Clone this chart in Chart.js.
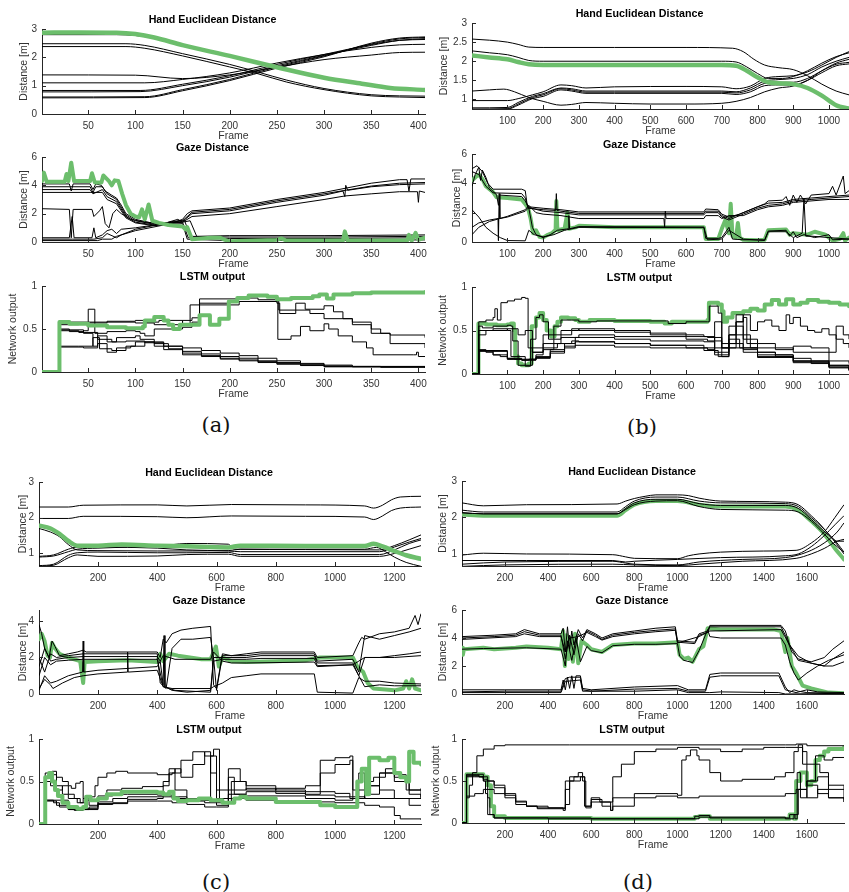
<!DOCTYPE html>
<html><head><meta charset="utf-8">
<script src="https://cdn.jsdelivr.net/npm/chart.js@4"></script>
<style>
body{margin:0;width:849px;height:892px;overflow:hidden;background:#fff;position:relative;}
canvas{position:absolute;}
.lab{position:absolute;font-family:"DejaVu Serif","Liberation Serif",serif;font-size:21px;color:#111;transform:translate(-50%,-50%);white-space:nowrap;}
</style></head><body>
<div class="lab" style="left:216px;top:425px">(a)</div>
<div class="lab" style="left:642px;top:427px">(b)</div>
<div class="lab" style="left:216px;top:882px">(c)</div>
<div class="lab" style="left:638px;top:882px">(d)</div>
<script>
// ---------- titles and ticks ----------
const titles = ['Hand Euclidean Distance', 'Gaze Distance', 'LSTM output'];
const xLabel = 'Frame';
const yLabels = ['Distance [m]', 'Distance [m]', 'Network output'];
const aFrames = [1, 407], bFrames = [1, 1056], cFrames = [1, 1290], dFrames = [1, 1772];
const aFrameTicks = [50, 100, 150, 200, 250, 300, 350, 400];
const bFrameTicks = [100, 200, 300, 400, 500, 600, 700, 800, 900, 1000];
const cFrameTicks = [200, 400, 600, 800, 1000, 1200];
const dFrameTicks = [200, 400, 600, 800, 1000, 1200, 1400, 1600];
const lstmTicks = [0, 0.5, 1];
const gazeTicks6 = [0, 2, 4, 6];
const gazeTicks4 = [0, 2, 4];
const handTicksA = [0, 1, 2, 3];
const handTicksB = [1, 1.5, 2, 2.5, 3];
const handTicksCD = [1, 2, 3];

// ---------- (a) ----------
const aHandGreen = [[1,2.87],[40,2.88],[80,2.87],[100,2.82],[120,2.7],[150,2.43],[200,2.05],[250,1.65],[300,1.28],[340,1.07],[370,0.92],[407,0.85]];
const aHandBlack = [
 [[1,2.8],[80,2.8],[100,2.77],[120,2.67],[150,2.4],[200,2.02],[250,1.62],[300,1.25],[340,1.04],[370,0.9],[407,0.83]],
 [[1,2.48],[90,2.48],[110,2.42],[150,2.13],[200,1.75],[230,1.48],[260,1.2],[300,0.9],[350,0.68],[380,0.64],[407,0.63]],
 [[1,2.38],[90,2.38],[110,2.32],[150,2.05],[200,1.66],[230,1.42],[260,1.13],[300,0.86],[350,0.64],[380,0.6],[407,0.58]],
 [[1,1.38],[100,1.37],[150,1.25],[200,1.38],[250,1.65],[300,1.92],[350,2.08],[380,2.17],[407,2.18]],
 [[1,1.1],[110,1.1],[150,1.22],[200,1.45],[250,1.8],[300,2.1],[350,2.35],[380,2.44],[407,2.46]],
 [[1,0.83],[105,0.83],[150,1.05],[200,1.35],[250,1.75],[300,2.1],[350,2.45],[380,2.6],[407,2.63]],
 [[1,0.78],[105,0.79],[150,1.0],[200,1.3],[250,1.7],[300,2.07],[350,2.42],[380,2.6],[407,2.66]],
 [[1,0.6],[110,0.61],[150,0.86],[200,1.22],[250,1.66],[300,2.05],[350,2.47],[380,2.65],[407,2.7]],
 [[1,0.57],[110,0.58],[150,0.82],[200,1.18],[250,1.62],[300,2.02],[350,2.5],[380,2.68],[407,2.72]]
];
const aGazeGreen = [[1,4.3],[3,4.9],[6,4.25],[25,4.25],[27,4.8],[29,4.3],[32,5.6],[35,4.3],[52,4.3],[54,4.85],[57,4.2],[64,4.2],[66,4.7],[72,4.3],[75,4.0],[78,4.35],[82,4.3],[86,3.4],[90,2.6],[95,2.0],[100,1.8],[104,1.75],[107,2.3],[110,1.6],[114,2.65],[118,1.5],[125,1.35],[135,1.2],[150,1.1],[153,0.9],[155,1.05],[160,0.2],[170,0.25],[180,0.3],[190,0.3],[195,0.15],[200,0.05],[250,0.15],[255,0.25],[260,0.1],[320,0.1],[322,0.75],[325,0.1],[388,0.1],[390,0.5],[393,0.1],[397,0.65],[400,0.15],[407,0.3]];
const aGazeBlack = [
 [[1,4.1],[30,4.1],[32,3.6],[34,4.1],[52,4.1],[55,3.7],[58,4.1],[64,4.0],[68,3.6],[75,3.3],[80,3.1],[85,2.6],[90,2.0],[100,1.6],[120,1.3],[140,1.35],[150,1.6],[155,2.0],[160,2.2],[200,2.4],[250,3.0],[300,3.5],[350,4.15],[380,4.4],[388,4.4],[390,3.6],[392,4.45],[407,4.45]],
 [[1,3.9],[30,3.9],[52,3.9],[55,3.5],[58,3.9],[65,3.9],[70,3.4],[80,3.0],[90,1.9],[100,1.5],[120,1.25],[150,1.5],[160,2.1],[200,2.3],[250,2.9],[300,3.4],[350,3.95],[380,4.15],[407,4.2]],
 [[1,3.7],[52,3.7],[55,3.4],[65,3.7],[70,3.2],[80,2.85],[90,1.8],[100,1.4],[120,1.2],[150,1.45],[160,2.0],[200,2.2],[250,2.8],[300,3.3],[320,3.6],[322,3.2],[323,4.0],[325,3.65],[350,3.9],[380,4.05],[407,4.1]],
 [[1,3.5],[52,3.5],[65,3.5],[70,3.0],[80,2.7],[90,1.7],[100,1.35],[120,1.15],[150,1.4],[160,1.8],[200,2.0],[250,2.5],[300,3.0],[322,3.25],[350,3.4],[380,3.55],[399,3.55],[400,2.8],[401,3.6],[407,3.5]],
 [[1,2.35],[30,2.3],[32,0.3],[34,2.3],[54,2.3],[56,1.8],[62,2.2],[65,2.5],[68,1.3],[72,1.0],[76,2.0],[80,2.3],[85,2.0],[95,1.6],[110,1.4],[130,1.3],[145,1.6],[150,1.4],[158,1.5],[165,0.4],[200,0.45],[300,0.45],[407,0.5]],
 [[1,0.3],[30,0.3],[33,1.8],[35,0.3],[54,0.3],[56,1.0],[58,0.3],[65,0.5],[70,0.8],[75,0.9],[80,0.6],[85,0.9],[100,1.0],[120,1.2],[140,1.45],[152,1.55],[158,0.4],[200,0.35],[300,0.35],[407,0.4]],
 [[1,0.2],[33,0.2],[56,0.2],[65,0.3],[70,0.6],[80,0.3],[85,0.5],[100,0.9],[130,1.3],[150,1.4],[156,0.3],[200,0.25],[300,0.25],[407,0.3]],
 [[1,0.1],[60,0.1],[65,0.2],[75,0.2],[80,0.4],[100,0.8],[130,1.2],[150,1.3],[155,0.2],[200,0.1],[300,0.12],[407,0.15]]
];
const aLstmGreen = [[1,0],[19,0],[19.5,0.58],[30,0.56],[50,0.54],[70,0.52],[90,0.51],[108,0.53],[110,0.6],[120,0.64],[130,0.6],[135,0.55],[140,0.5],[147,0.55],[168,0.66],[179,0.55],[189,0.62],[199,0.82],[208,0.86],[220,0.89],[240,0.875],[250,0.845],[265,0.86],[288,0.88],[295,0.9],[303,0.855],[310,0.9],[330,0.915],[350,0.925],[407,0.93]];
const aLstmBlack = [
 [[1,0],[19,0],[20,0.58],[50,0.58],[70,0.59],[100,0.6],[110,0.58],[125,0.6],[150,0.55],[158,0.78],[168,0.85],[210,0.86],[230,0.84],[250,0.83],[252,0.72],[270,0.72],[285,0.68],[300,0.62],[330,0.58],[350,0.5],[360,0.45],[370,0.43],[407,0.4]],
 [[1,0],[19,0],[20,0.55],[40,0.57],[70,0.58],[100,0.57],[120,0.55],[150,0.6],[160,0.63],[168,0.8],[200,0.82],[250,0.8],[253,0.68],[270,0.8],[280,0.73],[300,0.77],[310,0.7],[320,0.62],[330,0.55],[350,0.45],[370,0.33],[407,0.28]],
 [[1,0],[19,0],[20,0.5],[30,0.47],[45,0.48],[50,0.73],[57,0.45],[70,0.47],[90,0.48],[100,0.47],[105,0.45],[110,0.42],[120,0.5],[150,0.52],[160,0.58],[168,0.78],[210,0.82],[250,0.84],[251,0.38],[265,0.42],[275,0.53],[285,0.48],[300,0.56],[305,0.5],[315,0.42],[330,0.35],[345,0.28],[352,0.2],[395,0.2],[398,0.23],[400,0.18],[407,0.18]],
 [[1,0],[19,0],[20,0.49],[45,0.45],[55,0.3],[60,0.42],[70,0.35],[80,0.4],[100,0.42],[105,0.38],[120,0.33],[135,0.3],[150,0.28],[170,0.25],[190,0.22],[210,0.19],[230,0.16],[250,0.13],[275,0.1],[300,0.08],[330,0.065],[360,0.055],[407,0.05]],
 [[1,0],[19,0],[20,0.3],[40,0.3],[55,0.4],[62,0.27],[75,0.25],[90,0.3],[100,0.35],[120,0.3],[135,0.27],[150,0.24],[170,0.21],[190,0.18],[210,0.16],[230,0.13],[250,0.11],[275,0.09],[300,0.07],[330,0.06],[407,0.05]],
 [[1,0],[19,0],[20,0.29],[45,0.28],[60,0.33],[70,0.23],[80,0.28],[95,0.3],[110,0.35],[130,0.26],[150,0.2],[170,0.18],[190,0.15],[210,0.13],[230,0.11],[250,0.09],[275,0.075],[300,0.06],[407,0.05]],
 [[1,0],[19,0],[20,0.48],[40,0.46],[60,0.38],[75,0.35],[90,0.36],[110,0.34],[130,0.3],[150,0.22],[170,0.19],[190,0.16],[210,0.14],[230,0.12],[250,0.1],[275,0.08],[300,0.065],[407,0.05]]
];

// ---------- (b) ----------
const bHandGreen = [[1,2.15],[50,2.1],[100,2.05],[130,1.98],[160,1.92],[200,1.9],[700,1.9],[740,1.88],[770,1.75],[800,1.58],[830,1.45],[870,1.42],[900,1.4],[940,1.3],[980,1.1],[1020,0.85],[1056,0.76]];
const bHandBlack = [
 [[1,2.58],[50,2.55],[100,2.5],[130,2.44],[160,2.37],[200,2.36],[400,2.36],[600,2.36],[730,2.34],[760,2.25],[790,2.05],[820,1.9],[860,1.83],[900,1.78],[940,1.62],[980,1.4],[1020,1.22],[1056,1.12]],
 [[1,2.27],[50,2.22],[100,2.17],[130,2.1],[160,2.02],[200,2.0],[700,2.0],[740,1.98],[770,1.85],[800,1.68],[830,1.55],[870,1.55],[900,1.6],[940,1.75],[980,1.95],[1020,2.12],[1056,2.22]],
 [[1,1.22],[50,1.25],[90,1.27],[120,1.2],[160,1.05],[200,0.95],[250,0.85],[280,0.87],[320,0.92],[400,0.9],[500,0.88],[600,0.88],[700,0.9],[740,0.95],[780,1.05],[820,1.2],[860,1.3],[900,1.35],[940,1.5],[980,1.75],[1020,1.95],[1056,2.05]],
 [[1,0.97],[100,0.97],[130,1.02],[170,1.12],[200,1.2],[250,1.38],[280,1.36],[320,1.3],[400,1.33],[600,1.34],[700,1.33],[740,1.28],[780,1.35],[820,1.55],[860,1.6],[900,1.62],[940,1.72],[980,1.9],[1020,2.1],[1056,2.25]],
 [[1,0.78],[100,0.79],[130,0.92],[170,1.08],[200,1.15],[250,1.3],[280,1.28],[320,1.22],[400,1.22],[700,1.22],[740,1.2],[780,1.3],[820,1.48],[860,1.52],[900,1.55],[940,1.65],[980,1.85],[1020,2.0],[1056,2.1]],
 [[1,0.75],[100,0.76],[130,0.88],[170,1.05],[200,1.12],[250,1.28],[280,1.25],[320,1.19],[400,1.19],[700,1.19],[740,1.17],[780,1.25],[820,1.42],[860,1.45],[900,1.45],[940,1.55],[980,1.75],[1020,1.92],[1056,1.97]],
 [[1,0.73],[100,0.74],[130,0.85],[170,1.02],[200,1.08],[250,1.25],[280,1.22],[320,1.16],[400,1.16],[700,1.16],[740,1.13],[780,1.2],[820,1.36],[860,1.38],[900,1.38],[940,1.5],[980,1.7],[1020,1.88],[1056,1.93]]
];
const bGazeGreen = [[1,4.2],[10,4.4],[20,4.6],[30,4.3],[40,3.8],[50,3.6],[60,3.4],[70,3.05],[100,3.0],[140,2.9],[150,2.6],[158,2.3],[165,1.6],[172,0.6],[180,0.8],[190,0.35],[200,0.3],[210,0.45],[225,0.6],[235,0.85],[237,2.8],[240,0.8],[260,0.9],[268,2.0],[272,0.9],[290,1.0],[300,1.1],[400,1.0],[500,1.0],[650,1.0],[655,0.2],[690,0.2],[700,0.9],[710,1.5],[720,0.6],[725,2.6],[730,0.4],[740,0.3],[745,1.3],[750,0.3],[760,0.15],[800,0.12],[820,0.15],[830,0.8],[880,0.85],[890,0.5],[900,0.6],[940,0.5],[960,0.7],[990,0.5],[1000,0.3],[1010,0.1],[1030,0.2],[1040,0.6],[1045,0.1],[1056,0.3]];
const bGazeBlack = [
 [[1,3.8],[10,4.6],[20,5.1],[25,4.2],[30,4.9],[40,4.4],[50,3.7],[70,3.2],[75,2.5],[78,3.2],[140,3.1],[150,2.8],[160,2.3],[170,1.0],[180,0.5],[200,0.3],[220,0.5],[240,0.8],[270,0.9],[272,1.8],[274,0.9],[300,1.05],[650,1.02],[655,0.25],[690,0.25],[700,0.3],[720,1.0],[730,0.2],[760,0.15],[820,0.15],[830,0.75],[880,0.8],[890,0.4],[900,0.7],[910,0.3],[930,0.5],[960,0.3],[1000,0.5],[1010,0.15],[1056,0.2]],
 [[1,5.0],[15,5.2],[30,4.8],[45,4.0],[60,3.6],[140,3.6],[150,3.5],[155,2.6],[160,2.4],[200,2.3],[250,2.2],[300,2.05],[650,2.05],[655,2.25],[690,2.2],[700,1.9],[720,1.7],[750,1.9],[780,2.2],[820,2.6],[830,2.8],[870,2.85],[880,3.1],[890,2.5],[900,3.2],[910,2.7],[920,3.2],[935,2.6],[950,3.2],[1000,3.3],[1010,3.8],[1020,3.2],[1040,4.5],[1045,3.3],[1056,3.5]],
 [[1,4.8],[20,4.6],[40,3.8],[60,3.35],[140,3.3],[150,3.0],[158,2.3],[200,2.2],[235,2.15],[237,3.3],[239,2.15],[250,2.1],[300,1.95],[650,1.95],[655,2.1],[690,2.1],[700,1.8],[720,1.6],[760,2.0],[800,2.4],[830,2.65],[870,2.7],[900,2.9],[950,3.0],[1000,3.1],[1056,3.2]],
 [[1,1.0],[20,1.3],[50,1.5],[74,1.6],[75,0.1],[77,3.3],[79,1.6],[100,1.7],[150,2.1],[160,2.35],[200,2.1],[250,2.0],[300,1.85],[650,1.85],[655,2.0],[690,2.0],[700,1.7],[720,1.5],[760,1.9],[800,2.3],[830,2.5],[870,2.6],[900,2.8],[950,2.9],[1000,3.0],[1056,3.1]],
 [[1,0.5],[20,1.0],[50,1.4],[100,1.75],[150,2.2],[160,2.5],[180,2.0],[200,1.9],[250,1.8],[300,1.6],[538,1.6],[540,1.0],[542,2.1],[544,1.6],[650,1.6],[655,1.8],[690,1.8],[700,1.6],[720,1.8],[760,1.8],[800,2.2],[830,2.4],[870,2.5],[900,2.7],[1000,2.9],[1056,2.9]],
 [[1,2.2],[20,1.7],[40,1.0],[60,0.6],[80,0.3],[100,0.1],[150,0.08],[160,0.8],[175,0.5],[200,0.35],[230,0.5],[260,0.8],[300,1.0],[650,0.98],[660,0.15],[700,0.2],[720,0.8],[760,0.2],[820,0.1],[830,0.7],[880,0.7],[900,0.3],[925,0.6],[930,3.0],[935,0.4],[950,0.4],[1000,0.3],[1056,0.2]]
];
const bLstmGreen = [[1,0],[18,0],[19,0.58],[40,0.57],[70,0.56],[100,0.57],[110,0.58],[118,0.5],[122,0.2],[130,0.12],[140,0.1],[160,0.12],[168,0.55],[180,0.65],[190,0.7],[200,0.62],[210,0.5],[222,0.43],[232,0.55],[240,0.6],[250,0.65],[270,0.64],[290,0.62],[300,0.6],[330,0.62],[400,0.61],[500,0.6],[540,0.58],[560,0.6],[660,0.62],[664,0.82],[690,0.8],[700,0.72],[705,0.6],[715,0.65],[730,0.7],[760,0.72],[780,0.75],[800,0.73],[820,0.8],[840,0.85],[860,0.8],[880,0.86],[900,0.8],[920,0.82],[940,0.85],[970,0.83],[1000,0.82],[1030,0.8],[1056,0.78]];
const bLstmBlack = [
 [[1,0],[19,0],[20,0.6],[40,0.62],[60,0.65],[65,0.75],[72,0.62],[82,0.82],[100,0.84],[120,0.86],[140,0.88],[150,0.87],[158,0.3],[170,0.25],[200,0.3],[240,0.35],[280,0.38],[300,0.37],[400,0.35],[500,0.33],[600,0.3],[660,0.28],[680,0.6],[700,0.3],[720,0.35],[740,0.45],[760,0.3],[800,0.25],[850,0.2],[900,0.15],[950,0.12],[1000,0.1],[1056,0.06]],
 [[1,0],[19,0],[20,0.55],[30,0.53],[60,0.55],[100,0.56],[110,0.55],[115,0.38],[130,0.1],[150,0.09],[165,0.4],[180,0.65],[190,0.68],[200,0.6],[215,0.4],[230,0.55],[250,0.62],[280,0.62],[300,0.6],[350,0.61],[550,0.58],[600,0.6],[660,0.6],[665,0.78],[690,0.7],[700,0.2],[720,0.45],[740,0.68],[760,0.45],[780,0.3],[800,0.25],[850,0.22],[900,0.18],[950,0.15],[1000,0.08],[1056,0.05]],
 [[1,0],[19,0],[20,0.28],[40,0.25],[60,0.22],[80,0.2],[100,0.18],[120,0.17],[140,0.16],[160,0.17],[180,0.22],[200,0.28],[230,0.4],[250,0.45],[280,0.5],[300,0.52],[400,0.5],[500,0.47],[600,0.45],[650,0.43],[680,0.3],[720,0.45],[740,0.55],[760,0.4],[800,0.35],[850,0.3],[900,0.25],[1000,0.15],[1056,0.12]],
 [[1,0],[19,0],[20,0.27],[60,0.22],[100,0.18],[140,0.17],[180,0.2],[220,0.28],[260,0.35],[290,0.42],[400,0.4],[500,0.38],[650,0.37],[680,0.25],[720,0.4],[750,0.3],[800,0.22],[900,0.15],[1000,0.1],[1056,0.05]],
 [[1,0],[19,0],[20,0.27],[100,0.17],[140,0.16],[180,0.19],[220,0.26],[260,0.32],[290,0.37],[400,0.35],[500,0.33],[650,0.3],[680,0.22],[720,0.35],[760,0.25],[800,0.2],[900,0.14],[1000,0.08],[1056,0.04]],
 [[1,0],[19,0],[20,0.26],[100,0.17],[140,0.16],[180,0.18],[220,0.24],[260,0.3],[290,0.33],[400,0.31],[500,0.3],[650,0.27],[690,0.2],[720,0.3],[760,0.28],[800,0.19],[900,0.13],[1000,0.07],[1056,0.04]],
 [[1,0],[19,0],[20,0.45],[40,0.5],[100,0.52],[130,0.45],[150,0.5],[170,0.25],[200,0.45],[250,0.5],[280,0.52],[300,0.5],[400,0.48],[500,0.45],[600,0.43],[660,0.42],[700,0.35],[720,0.55],[740,0.6],[760,0.68],[780,0.5],[800,0.6],[820,0.62],[840,0.55],[860,0.5],[880,0.68],[890,0.58],[900,0.65],[920,0.55],[940,0.5],[960,0.48],[980,0.52],[1000,0.45],[1020,0.4],[1040,0.35],[1056,0.3]],
 [[1,0],[19,0],[20,0.5],[60,0.52],[100,0.5],[110,0.2],[150,0.1],[170,0.3],[200,0.35],[250,0.42],[300,0.45],[400,0.43],[600,0.4],[660,0.38],[700,0.3],[740,0.6],[760,0.65],[770,0.35],[800,0.3],[850,0.28],[900,0.32],[950,0.3],[1000,0.25],[1020,0.55],[1040,0.45],[1056,0.4]]
];

// ---------- (c) ----------
const cHandGreen = [[1,1.78],[40,1.7],[70,1.55],[100,1.35],[130,1.22],[200,1.22],[280,1.25],[400,1.22],[500,1.2],[640,1.17],[680,1.22],[900,1.21],[1100,1.21],[1130,1.27],[1160,1.2],[1200,1.07],[1240,0.95],[1290,0.85]];
const cHandBlack = [
 [[1,2.3],[100,2.3],[150,2.35],[400,2.36],[500,2.33],[650,2.37],[900,2.36],[1100,2.33],[1130,2.27],[1160,2.35],[1190,2.5],[1220,2.58],[1290,2.6]],
 [[1,1.98],[100,1.98],[150,2.04],[400,2.03],[500,2.0],[650,2.05],[900,2.04],[1100,2.02],[1130,1.95],[1160,2.05],[1190,2.2],[1220,2.27],[1290,2.3]],
 [[1,1.7],[40,1.6],[70,1.47],[100,1.25],[130,1.1],[200,1.08],[400,1.07],[640,1.08],[680,1.12],[1100,1.12],[1140,1.17],[1170,1.05],[1200,0.9],[1240,0.75],[1290,0.64]],
 [[1,0.9],[50,0.93],[100,1.05],[130,1.12],[200,1.15],[300,1.18],[400,1.2],[500,1.28],[640,1.26],[660,1.12],[900,1.11],[1150,1.1],[1200,1.22],[1250,1.38],[1290,1.52]],
 [[1,0.92],[50,0.96],[100,1.12],[130,1.18],[200,1.18],[400,1.15],[500,1.1],[640,1.07],[680,1.05],[1150,1.05],[1200,1.18],[1250,1.32],[1290,1.42]],
 [[1,0.66],[50,0.7],[100,0.95],[130,1.02],[200,1.04],[400,1.02],[500,1.02],[640,1.03],[680,0.97],[1150,0.97],[1200,1.1],[1250,1.28],[1290,1.38]],
 [[1,0.64],[50,0.67],[100,0.88],[130,0.96],[200,0.92],[400,0.93],[500,0.97],[640,0.98],[680,0.92],[1150,0.92],[1200,1.0],[1250,1.12],[1290,1.22]]
];
const cGazeGreen = [[1,3.0],[10,3.3],[20,2.9],[30,2.1],[38,2.0],[45,2.8],[55,2.5],[70,2.2],[100,2.0],[140,1.8],[150,0.6],[155,1.75],[200,1.8],[300,1.85],[400,1.75],[410,2.2],[420,1.8],[440,2.2],[470,2.1],[550,1.9],[580,1.9],[598,2.6],[608,1.5],[620,2.0],[650,1.8],[700,1.75],[800,1.8],[900,1.85],[950,2.0],[1060,2.0],[1075,1.5],[1095,1.2],[1110,0.6],[1130,0.3],[1200,0.2],[1230,0.3],[1240,0.7],[1250,0.3],[1260,0.8],[1270,0.3],[1290,0.2]];
const cGazeBlack = [
 [[1,3.8],[10,3.3],[20,2.5],[35,2.0],[45,2.9],[55,2.6],[70,2.1],[100,2.2],[130,2.3],[150,2.4],[160,2.3],[400,2.3],[410,2.0],[420,3.0],[430,2.8],[450,3.3],[480,3.5],[520,3.6],[580,3.7],[590,0.5],[600,0.3],[620,2.2],[650,2.1],[700,2.2],[750,2.3],[930,2.3],[940,2.0],[1060,2.1],[1080,2.8],[1090,3.1],[1100,3.0],[1150,3.3],[1200,3.4],[1250,3.6],[1270,4.3],[1280,3.8],[1290,4.4]],
 [[1,2.0],[20,1.2],[40,2.2],[60,2.0],[100,2.1],[150,2.2],[400,2.2],[410,0.6],[430,0.3],[450,2.5],[480,3.0],[520,3.0],[580,3.1],[590,2.0],[600,0.2],[620,2.1],[700,2.1],[750,2.2],[930,2.2],[940,1.8],[1060,1.9],[1080,1.2],[1100,3.2],[1150,3.0],[1200,3.2],[1250,3.4],[1290,3.6]],
 [[1,1.5],[20,2.5],[40,1.8],[60,1.9],[100,2.0],[150,2.05],[400,2.05],[410,1.8],[420,0.5],[423,3.2],[426,0.4],[450,0.2],[500,0.1],[580,0.2],[590,2.0],[620,2.0],[700,2.0],[750,2.1],[930,2.1],[940,1.7],[1060,1.7],[1080,1.0],[1100,2.0],[1150,2.0],[1200,2.1],[1250,2.2],[1290,2.3]],
 [[1,1.0],[20,2.0],[40,1.6],[60,1.8],[100,1.85],[150,1.9],[400,1.9],[420,0.4],[460,0.2],[580,0.1],[590,1.8],[620,1.9],[700,1.9],[750,1.95],[930,1.95],[940,1.55],[1060,1.6],[1080,1.8],[1100,2.0],[1200,2.0],[1290,2.1]],
 [[1,0.3],[20,0.8],[40,0.5],[48,0.3],[80,0.6],[120,0.9],[150,1.0],[200,1.1],[298,1.2],[300,2.3],[302,1.2],[400,1.3],[420,0.4],[450,0.3],[580,0.3],[590,0.4],[620,0.6],[650,0.9],[700,1.0],[750,1.1],[930,1.1],[940,0.1],[1060,0.05],[1080,0.9],[1100,0.7],[1150,0.7],[1200,0.6],[1290,0.55]],
 [[1,0.2],[20,1.0],[40,0.6],[60,0.7],[100,1.0],[148,1.2],[150,2.9],[152,1.2],[200,1.3],[300,1.4],[400,1.5],[410,1.8],[420,2.1],[460,1.9],[580,1.9],[590,2.3],[620,1.8],[650,1.7],[700,1.7],[930,1.75],[940,1.5],[1060,1.6],[1080,1.0],[1100,0.4],[1150,0.5],[1200,0.45],[1290,0.45]]
];
const cLstmGreen = [[1,0],[21,0],[22,0.55],[35,0.6],[45,0.5],[55,0.4],[65,0.33],[80,0.25],[100,0.2],[130,0.18],[150,0.2],[160,0.32],[175,0.28],[200,0.3],[230,0.35],[280,0.38],[400,0.37],[420,0.35],[440,0.38],[455,0.3],[470,0.27],[500,0.28],[540,0.3],[580,0.28],[620,0.25],[660,0.3],[680,0.32],[700,0.3],[800,0.26],[950,0.22],[1000,0.2],[1070,0.2],[1075,0.5],[1090,0.65],[1105,0.35],[1115,0.78],[1150,0.75],[1180,0.78],[1200,0.6],[1220,0.55],[1240,0.5],[1250,0.85],[1265,0.72],[1290,0.7]];
const cLstmBlack = [
 [[1,0],[21,0],[22,0.6],[45,0.62],[60,0.55],[80,0.5],[100,0.45],[110,0.42],[125,0.48],[140,0.5],[150,0.3],[170,0.32],[190,0.45],[200,0.55],[230,0.6],[260,0.62],[300,0.6],[400,0.58],[450,0.6],[480,0.75],[520,0.85],[560,0.8],[590,0.88],[610,0.3],[620,0.25],[650,0.5],[700,0.45],[800,0.38],[900,0.35],[950,0.75],[1000,0.78],[1050,0.8],[1060,0.4],[1100,0.35],[1150,0.6],[1200,0.5],[1250,0.35],[1290,0.32]],
 [[1,0],[21,0],[22,0.55],[45,0.58],[60,0.45],[80,0.35],[100,0.3],[130,0.25],[150,0.3],[170,0.22],[200,0.3],[230,0.4],[280,0.42],[350,0.44],[420,0.45],[440,0.6],[460,0.65],[480,0.55],[520,0.7],[560,0.85],[580,0.6],[600,0.4],[640,0.65],[680,0.5],[700,0.4],[800,0.42],[900,0.45],[950,0.6],[1000,0.7],[1050,0.75],[1060,0.3],[1100,0.5],[1130,0.55],[1170,0.65],[1200,0.58],[1240,0.4],[1290,0.3]],
 [[1,0],[21,0],[22,0.28],[50,0.25],[70,0.2],[100,0.17],[120,0.16],[150,0.17],[170,0.2],[200,0.23],[250,0.25],[300,0.27],[400,0.27],[450,0.25],[500,0.23],[560,0.2],[600,0.2],[640,0.3],[700,0.28],[800,0.27],[900,0.26],[1000,0.25],[1100,0.22],[1150,0.2],[1200,0.1],[1220,0.06],[1290,0.05]],
 [[1,0],[21,0],[22,0.27],[60,0.22],[100,0.18],[150,0.18],[200,0.26],[250,0.3],[300,0.32],[400,0.32],[450,0.3],[500,0.27],[560,0.25],[600,0.22],[640,0.35],[700,0.38],[800,0.36],[900,0.34],[1000,0.32],[1100,0.3],[1200,0.3],[1250,0.22],[1290,0.22]],
 [[1,0],[21,0],[22,0.5],[40,0.45],[60,0.4],[80,0.45],[100,0.35],[120,0.3],[140,0.25],[160,0.28],[200,0.33],[250,0.35],[300,0.35],[400,0.34],[450,0.32],[500,0.3],[560,0.28],[600,0.25],[640,0.4],[700,0.42],[800,0.4],[900,0.38],[1000,0.36],[1050,0.3],[1100,0.45],[1150,0.4],[1200,0.3],[1290,0.35]],
 [[1,0],[21,0],[22,0.28],[100,0.17],[150,0.17],[200,0.24],[300,0.29],[400,0.3],[420,0.5],[440,0.65],[460,0.4],[500,0.3],[540,0.28],[580,0.8],[600,0.3],[640,0.55],[660,0.35],[700,0.33],[900,0.3],[1000,0.28],[1060,0.3],[1080,0.6],[1100,0.45],[1150,0.6],[1200,0.55],[1250,0.4],[1290,0.42]]
];

// ---------- (d) ----------
const dHandGreen = [[1,2.08],[100,2.05],[720,2.05],[760,2.2],[800,2.35],[900,2.45],[1000,2.45],[1100,2.35],[1200,2.3],[1500,2.3],[1560,2.2],[1620,1.9],[1680,1.55],[1730,1.15],[1772,0.85]];
const dHandBlack = [
 [[1,2.4],[100,2.32],[300,2.35],[720,2.37],[760,2.45],[800,2.52],[850,2.58],[900,2.62],[1000,2.62],[1050,2.6],[1100,2.53],[1200,2.45],[1500,2.42],[1560,2.35],[1620,2.05],[1660,1.82],[1700,1.55],[1740,1.3],[1772,1.05]],
 [[1,2.2],[100,2.15],[720,2.15],[760,2.3],[800,2.45],[900,2.56],[1000,2.56],[1100,2.45],[1200,2.4],[1500,2.38],[1560,2.3],[1620,2.0],[1680,1.68],[1720,1.42],[1740,1.35],[1772,1.35]],
 [[1,2.13],[100,2.1],[720,2.1],[760,2.25],[800,2.4],[900,2.5],[1000,2.5],[1100,2.38],[1200,2.33],[1500,2.33],[1560,2.25],[1620,1.95],[1680,1.62],[1720,1.4],[1772,1.0]],
 [[1,2.13],[100,2.1],[720,2.1],[760,2.22],[800,2.35],[900,2.45],[1000,2.46],[1100,2.3],[1200,2.22],[1500,2.2],[1560,2.15],[1620,1.9],[1680,1.55],[1720,1.3],[1772,1.05]],
 [[1,0.97],[100,1.02],[300,1.0],[700,0.98],[760,0.92],[800,0.88],[1000,0.87],[1050,0.95],[1100,1.0],[1200,1.05],[1400,1.08],[1550,1.1],[1620,1.3],[1680,1.6],[1730,2.0],[1772,2.35]],
 [[1,0.82],[300,0.82],[700,0.82],[760,0.78],[800,0.8],[1000,0.85],[1200,0.9],[1500,0.95],[1560,1.0],[1620,1.2],[1680,1.5],[1730,1.8],[1772,2.05]],
 [[1,0.72],[200,0.78],[700,0.8],[760,0.75],[800,0.72],[1000,0.7],[1100,0.78],[1300,0.85],[1500,0.9],[1600,1.05],[1680,1.3],[1740,1.6],[1772,1.85]],
 [[1,0.66],[200,0.7],[700,0.72],[800,0.7],[1000,0.68],[1100,0.72],[1300,0.8],[1550,0.88],[1620,1.0],[1680,1.15],[1740,1.35],[1772,1.4]]
];
const dGazeGreen = [[1,3.3],[5,2.8],[10,3.2],[100,3.3],[150,3.2],[250,3.3],[300,3.4],[400,3.3],[460,3.2],[470,4.5],[478,2.0],[485,4.2],[495,2.5],[505,4.0],[515,2.3],[525,4.3],[540,2.2],[555,3.8],[580,3.5],[600,3.2],[650,3.0],[700,3.5],[800,3.6],[900,3.6],[1000,3.7],[1010,2.8],[1030,2.5],[1050,2.6],[1070,2.3],[1100,3.2],[1120,3.4],[1140,4.7],[1200,4.6],[1450,4.6],[1480,4.5],[1500,3.0],[1510,4.0],[1530,2.0],[1550,1.5],[1580,0.6],[1620,0.4],[1700,0.1],[1772,0.05]];
const dGazeBlack = [
 [[1,4.1],[150,4.2],[250,4.3],[290,4.6],[360,4.3],[460,4.3],[470,4.7],[480,3.0],[490,4.8],[500,3.2],[510,4.5],[520,3.5],[540,4.6],[560,4.0],[580,4.6],[620,4.3],[650,4.0],[700,4.3],[800,4.5],[900,4.7],[990,4.8],[1000,3.8],[1080,3.7],[1100,4.3],[1140,4.5],[1150,4.9],[1480,4.9],[1500,4.5],[1520,3.5],[1560,2.7],[1620,2.2],[1680,2.0],[1720,2.5],[1772,3.0]],
 [[1,4.0],[150,4.1],[250,4.2],[290,4.45],[360,4.2],[460,4.2],[480,2.5],[500,4.2],[520,2.8],[540,4.3],[560,3.8],[580,4.5],[620,4.2],[650,3.9],[700,4.2],[800,4.4],[900,4.55],[990,4.65],[1000,3.7],[1080,3.6],[1100,4.2],[1140,4.4],[1150,4.8],[1480,4.8],[1500,4.2],[1530,3.0],[1560,2.5],[1620,2.3],[1680,2.6],[1720,3.2],[1772,3.8]],
 [[1,3.9],[250,4.1],[290,4.3],[360,4.1],[460,4.1],[480,3.0],[500,4.0],[540,4.1],[580,4.4],[620,4.1],[650,3.85],[700,4.1],[800,4.3],[900,4.45],[990,4.55],[1000,3.65],[1100,4.1],[1150,4.5],[1480,4.6],[1520,3.5],[1560,2.4],[1620,2.2],[1680,2.0],[1720,2.0],[1772,2.3]],
 [[1,3.2],[100,3.25],[300,3.3],[460,3.2],[480,2.0],[490,3.8],[510,2.4],[530,4.0],[550,2.3],[580,3.4],[600,3.1],[650,2.95],[700,3.45],[800,3.55],[900,3.55],[1000,3.6],[1010,2.7],[1030,2.4],[1070,2.25],[1100,3.1],[1140,4.6],[1150,4.1],[1200,4.0],[1480,4.0],[1500,3.5],[1520,2.3],[1540,1.5],[1560,1.0],[1600,1.5],[1650,2.0],[1700,2.4],[1772,2.8]],
 [[1,0.3],[200,0.3],[460,0.3],[470,1.0],[480,0.3],[490,1.2],[500,0.4],[510,1.3],[520,0.4],[530,1.3],[550,1.3],[560,0.4],[600,0.3],[800,0.5],[1000,0.6],[1050,0.3],[1130,0.3],[1150,1.4],[1200,1.5],[1470,1.5],[1500,0.5],[1520,0.1],[1540,0.3],[1560,0.2],[1600,0.1],[1772,0.05]],
 [[1,0.15],[200,0.2],[460,0.2],[480,1.1],[500,1.2],[550,1.2],[560,0.3],[600,0.2],[800,0.35],[1000,0.4],[1050,0.2],[1130,0.2],[1150,1.2],[1200,1.3],[1470,1.3],[1500,0.3],[1550,0.1],[1600,0.3],[1650,0.15],[1772,0.1]],
 [[1,0.1],[460,0.1],[480,0.9],[550,1.0],[560,0.2],[800,0.2],[1000,0.3],[1050,0.1],[1150,0.1],[1200,0.15],[1470,0.1],[1500,0.0],[1772,0.05]]
];
const dLstmGreen = [[1,0],[21,0],[22,0.58],[80,0.58],[100,0.55],[120,0.45],[135,0.2],[150,0.08],[200,0.06],[600,0.05],[1000,0.05],[1080,0.07],[1100,0.08],[1150,0.05],[1500,0.05],[1520,0.1],[1540,0.05],[1550,0.5],[1570,0.6],[1600,0.45],[1620,0.5],[1640,0.75],[1660,0.8],[1680,0.85],[1700,0.88],[1772,0.9]];
const dLstmBlack = [
 [[1,0],[21,0],[22,0.3],[35,0.45],[50,0.6],[70,0.8],[100,0.88],[150,0.92],[200,0.93],[500,0.93],[1000,0.93],[1500,0.93],[1550,0.94],[1600,0.92],[1772,0.92]],
 [[1,0],[21,0],[22,0.58],[70,0.58],[100,0.52],[120,0.3],[130,0.1],[150,0.06],[400,0.05],[1000,0.05],[1080,0.08],[1100,0.09],[1150,0.06],[1500,0.06],[1520,0.1],[1545,0.05],[1555,0.6],[1570,0.3],[1600,0.5],[1640,0.7],[1660,0.6],[1700,0.4],[1772,0.28]],
 [[1,0],[21,0],[22,0.57],[80,0.55],[100,0.5],[110,0.35],[120,0.1],[150,0.06],[600,0.05],[1100,0.07],[1500,0.05],[1540,0.1],[1560,0.4],[1600,0.3],[1650,0.4],[1700,0.3],[1772,0.25]],
 [[1,0],[21,0],[22,0.55],[60,0.55],[100,0.5],[150,0.42],[200,0.35],[250,0.25],[300,0.2],[350,0.18],[470,0.18],[480,0.5],[520,0.55],[540,0.6],[560,0.55],[570,0.2],[600,0.3],[640,0.25],[690,0.15],[700,0.55],[740,0.7],[800,0.85],[900,0.88],[1000,0.9],[1100,0.88],[1200,0.85],[1300,0.88],[1400,0.9],[1500,0.9],[1560,0.93],[1580,0.85],[1600,0.7],[1640,0.8],[1680,0.75],[1720,0.78],[1772,0.78]],
 [[1,0],[21,0],[22,0.32],[60,0.35],[100,0.4],[150,0.35],[200,0.3],[250,0.22],[300,0.2],[400,0.18],[470,0.15],[480,0.4],[500,0.5],[550,0.55],[570,0.2],[600,0.28],[650,0.25],[700,0.3],[800,0.35],[900,0.35],[1000,0.33],[1020,0.75],[1040,0.8],[1060,0.87],[1090,0.8],[1100,0.75],[1150,0.6],[1200,0.5],[1300,0.52],[1450,0.55],[1500,0.6],[1540,0.85],[1560,0.9],[1580,0.7],[1600,0.45],[1650,0.35],[1700,0.3],[1772,0.25]],
 [[1,0],[21,0],[22,0.56],[80,0.55],[120,0.5],[150,0.45],[200,0.33],[250,0.26],[300,0.2],[350,0.17],[470,0.17],[480,0.22],[500,0.55],[560,0.5],[575,0.18],[600,0.25],[650,0.2],[690,0.15],[700,0.2],[800,0.3],[900,0.32],[1000,0.3],[1100,0.32],[1500,0.35],[1550,0.4],[1600,0.5],[1650,0.55],[1700,0.45],[1772,0.4]]
];

// ---------- layout / drawing ----------
const FONT = '"Liberation Sans", Arial, Helvetica, sans-serif';
const GREEN = '#6cbe6c';
const AXIS = '#262626';
Chart.defaults.font.family = FONT;

const inTicks = {
  id: 'inTicks',
  afterDraw(chart) {
    const {ctx, chartArea: a, scales: {x, y}} = chart;
    ctx.save();
    ctx.strokeStyle = AXIS; ctx.lineWidth = 1;
    ctx.beginPath();
    x.ticks.forEach(t => { const p = Math.round(x.getPixelForValue(t.value)) + 0.5; ctx.moveTo(p, a.bottom); ctx.lineTo(p, a.bottom - 4); });
    y.ticks.forEach(t => { const p = Math.round(y.getPixelForValue(t.value)) + 0.5; ctx.moveTo(a.left, p); ctx.lineTo(a.left + 4, p); });
    ctx.stroke();
    ctx.restore();
  }
};

function toXY(arr) { return arr.map(p => ({x: p[0], y: p[1]})); }
const plain = v => String(v);

function makePlot(p) {
  const [L, T, R, B] = p.rect;
  const padL = 42, padT = 20, padB = 32, padR = 6;
  const w = R - L + padL + padR, h = B - T + padT + padB;
  const cv = document.createElement('canvas');
  cv.width = w; cv.height = h;
  cv.style.left = (L - padL) + 'px'; cv.style.top = (T - padT) + 'px';
  cv.style.width = w + 'px'; cv.style.height = h + 'px';
  document.body.appendChild(cv);
  const stepped = p.kind === 2 ? 'before' : false;
  const datasets = p.black.map((s, i) => ({
    data: toXY(s), borderColor: '#000', borderWidth: 1, pointRadius: 0, fill: false,
    stepped, cubicInterpolationMode: p.kind === 0 ? 'monotone' : 'default', tension: 0, order: i + 1
  }));
  datasets.push({
    data: toXY(p.green), borderColor: GREEN, borderWidth: p.gw || 4, pointRadius: 0, fill: false,
    stepped, cubicInterpolationMode: p.kind === 0 ? 'monotone' : 'default', tension: 0,
    order: p.greenTop ? -1 : 99, borderCapStyle: 'round', borderJoinStyle: 'round'
  });
  new Chart(cv, {
    type: 'line',
    data: {datasets},
    plugins: [inTicks],
    options: {
      responsive: false, animation: false, events: [],
      layout: {padding: {left: 0, right: padR, top: 0, bottom: 0}, autoPadding: false},
      plugins: {
        legend: {display: false}, tooltip: {enabled: false},
        title: {display: true, text: titles[p.kind], color: '#000',
          font: {family: FONT, size: 10.7, weight: 'bold'}, padding: {top: 5.1, bottom: 2.06}}
      },
      scales: {
        x: {
          type: 'linear', min: p.xr[0], max: p.xr[1],
          afterBuildTicks: s => { s.ticks = p.xt.map(v => ({value: v})); },
          afterFit: s => { s.height = padB; s.paddingLeft = 0; s.paddingRight = 0; },
          grid: {display: false, drawTicks: false},
          border: {display: true, color: AXIS, width: 1},
          ticks: {font: {size: 10}, color: '#333', padding: 6, maxRotation: 0, autoSkip: false, callback: plain},
          title: {display: true, text: xLabel, color: '#333', font: {size: 10.5}, padding: {top: 0, bottom: 3.7}}
        },
        y: {
          type: 'linear', min: p.yr[0], max: p.yr[1],
          afterBuildTicks: s => { s.ticks = p.yt.map(v => ({value: v})); },
          afterFit: s => { s.width = padL; s.paddingTop = 0; s.paddingBottom = 0; },
          grid: {display: false, drawTicks: false},
          border: {display: true, color: AXIS, width: 1},
          ticks: {font: {size: 10}, color: '#333', padding: 5, callback: plain},
          title: {display: true, text: yLabels[p.kind], color: '#333', font: {size: 10.5},
            padding: {top: 35.7 - p.yd, bottom: 0}}
        }
      }
    }
  });
}

const plots = [
  {kind:0, rect:[42,29,425,114],  xr:aFrames, xt:aFrameTicks, yr:[0,3],    yt:handTicksA, yd:18,   green:aHandGreen, black:aHandBlack, greenTop:true, gw:4.5},
  {kind:1, rect:[42,157,425,242], xr:aFrames, xt:aFrameTicks, yr:[0,6],    yt:gazeTicks6, yd:18,   green:aGazeGreen, black:aGazeBlack, greenTop:true},
  {kind:2, rect:[42,286,425,372], xr:aFrames, xt:aFrameTicks, yr:[0,1],    yt:lstmTicks,  yd:29,   green:aLstmGreen, black:aLstmBlack, greenTop:true},
  {kind:0, rect:[472,22.5,849,109], xr:bFrames, xt:bFrameTicks, yr:[0.75,3], yt:handTicksB, yd:28, green:bHandGreen, black:bHandBlack, greenTop:true, gw:4.5},
  {kind:1, rect:[472,154,849,242], xr:bFrames, xt:bFrameTicks, yr:[0,6],   yt:gazeTicks6, yd:15.3, green:bGazeGreen, black:bGazeBlack, greenTop:false},
  {kind:2, rect:[472,287,849,374], xr:bFrames, xt:bFrameTicks, yr:[0,1],   yt:lstmTicks,  yd:29,   green:bLstmGreen, black:bLstmBlack, greenTop:false},
  {kind:0, rect:[39,481.5,421,566], xr:cFrames, xt:cFrameTicks, yr:[0.65,3], yt:handTicksCD, yd:15.7, green:cHandGreen, black:cHandBlack, greenTop:true, gw:4.5},
  {kind:1, rect:[39,610,421,694], xr:cFrames, xt:cFrameTicks, yr:[0,4.6],  yt:gazeTicks4, yd:16.3, green:cGazeGreen, black:cGazeBlack, greenTop:false},
  {kind:2, rect:[39,739,421,824], xr:cFrames, xt:cFrameTicks, yr:[0,1],    yt:lstmTicks,  yd:28,   green:cLstmGreen, black:cLstmBlack, greenTop:true},
  {kind:0, rect:[462,481,844,566], xr:dFrames, xt:dFrameTicks, yr:[0.67,3], yt:handTicksCD, yd:19.3, green:dHandGreen, black:dHandBlack, greenTop:false},
  {kind:1, rect:[462,610,844,694], xr:dFrames, xt:dFrameTicks, yr:[0,6],   yt:gazeTicks6, yd:18.7, green:dGazeGreen, black:dGazeBlack, greenTop:false},
  {kind:2, rect:[462,739,844,823], xr:dFrames, xt:dFrameTicks, yr:[0,1],   yt:lstmTicks,  yd:26,   green:dLstmGreen, black:dLstmBlack, greenTop:false}
];
plots.forEach(makePlot);
</script>
</body></html>
